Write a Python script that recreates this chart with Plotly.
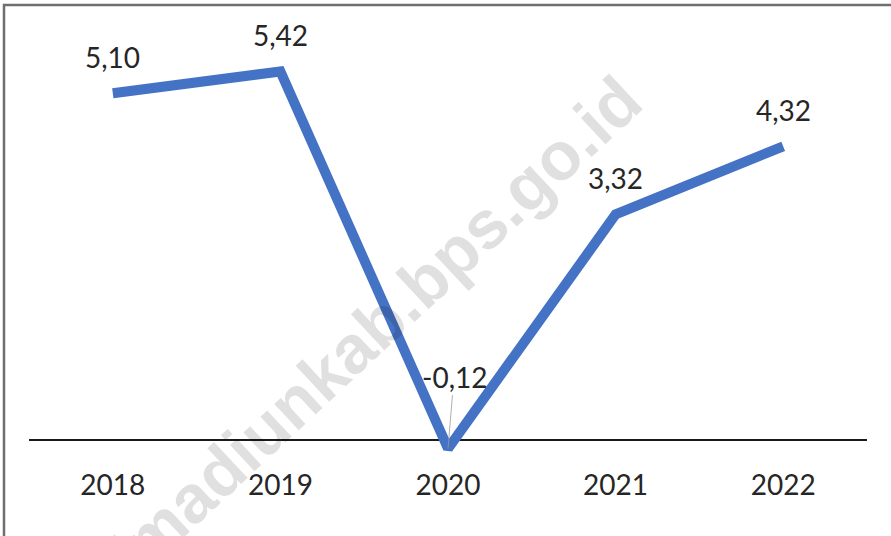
import plotly.graph_objects as go

# =============== data
years = [2018, 2019, 2020, 2021, 2022]
growth = [5.10, 5.42, -0.12, 3.32, 4.32]
watermark = 'https://madiunkab.bps.go.id'

# =============== colors
lineBlue = '#4472C4'
textDark = '#262626'
borderGray = '#6f6f6f'

W, H = 891, 536
ml, mr, mt, mb = 29, 24, 32, 82

fig = go.Figure()
fig.add_trace(go.Scatter(x=years, y=growth, mode='lines',
    line=dict(color=lineBlue, width=10), hoverinfo='skip', showlegend=False))

# =============== data labels
for yr, v in zip(years, growth):
    lbl = f'{v:.2f}'.replace('.', ',')
    if v < 0:
        fig.add_annotation(x=yr, y=v, text=lbl, showarrow=True, arrowhead=0,
            arrowwidth=0.8, arrowcolor='#9a9a9a', ax=6, ay=-72,
            font=dict(family='Lato', size=28, color=textDark))
    else:
        fig.add_annotation(x=yr, y=v, text=lbl, showarrow=False, yshift=36,
            font=dict(family='Lato', size=28, color=textDark))

# =============== watermark
pw, ph = W - ml - mr, H - mt - mb
fig.add_annotation(xref='paper', yref='paper', x=(298 - ml) / pw, y=(H - mb - 398) / ph,
    xanchor='center', yanchor='middle',
    text='<b>' + watermark + '</b>', showarrow=False, textangle=-43,
    font=dict(family='Liberation Sans', size=68, color='rgba(0,0,0,0.12)'))

# =============== border (top / left only, rest cropped)
fig.add_shape(type='rect', xref='paper', yref='paper',
    x0=(4 - ml) / pw, x1=1.2, y0=-0.4, y1=(H - mb - 5) / ph,
    line=dict(color=borderGray, width=2.5), fillcolor='rgba(0,0,0,0)', layer='above')

fig.update_xaxes(range=[2017.5, 2022.5], tickvals=years, ticktext=[str(y) for y in years],
    showgrid=False, showline=False, zeroline=False, automargin=False,
    ticks='', ticklabelstandoff=12, tickfont=dict(family='Lato', size=28, color=textDark),
    fixedrange=True)
fig.update_yaxes(range=[-0.2, 6.0], showgrid=False, showticklabels=False, showline=False,
    automargin=False, zeroline=True, zerolinecolor='#1a1a1a', zerolinewidth=1.5, fixedrange=True)
fig.update_layout(width=W, height=H, margin=dict(l=ml, r=mr, t=mt, b=mb),
    plot_bgcolor='white', paper_bgcolor='white', showlegend=False)

fig.write_html('out.html', config={'displayModeBar': False},
    post_script="document.body.style.margin='0';")
